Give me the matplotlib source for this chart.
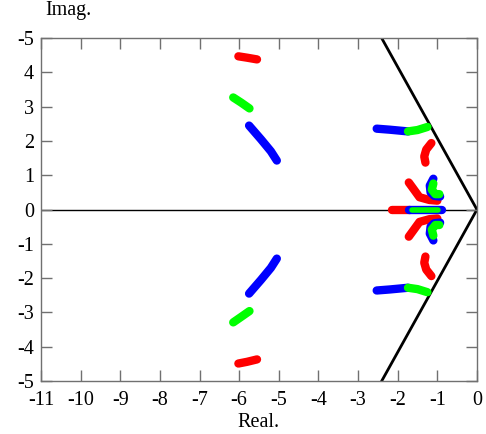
import matplotlib.pyplot as plt
import numpy as np

plt.rcParams['font.family'] = ['Liberation Serif', 'DejaVu Serif']
plt.rcParams['axes.unicode_minus'] = False

# root branches, (real, imag) pairs; upper and lower half-plane
red_far_up = [(-6.02, 4.47), (-5.8, 4.43), (-5.55, 4.38)]
red_far_dn = [(-6.02, -4.49), (-5.8, -4.44), (-5.55, -4.37)]
green_far_up = [(-6.15, 3.27), (-5.95, 3.12), (-5.74, 2.95)]
green_far_dn = [(-6.15, -3.29), (-5.95, -3.13), (-5.74, -2.96)]
blue_far_up = [(-5.75, 2.45), (-5.45, 2.05), (-5.2, 1.7), (-5.05, 1.43)]
blue_far_dn = [(-5.75, -2.45), (-5.45, -2.05), (-5.2, -1.7), (-5.05, -1.43)]

blue_arc_up = [(-2.53, 2.36), (-2.2, 2.33), (-1.74, 2.28)]
blue_arc_dn = [(-2.53, -2.36), (-2.2, -2.33), (-1.74, -2.28)]
green_arc_up = [(-1.74, 2.28), (-1.5, 2.32), (-1.25, 2.41)]
green_arc_dn = [(-1.74, -2.28), (-1.5, -2.32), (-1.25, -2.41)]
red_arc_up = [(-1.15, 1.94), (-1.28, 1.75), (-1.33, 1.55), (-1.3, 1.37)]
red_arc_dn = [(-1.15, -1.94), (-1.28, -1.75), (-1.33, -1.55), (-1.3, -1.37)]

blue_hook_up = [(-1.1, 0.9), (-1.19, 0.7), (-1.17, 0.5), (-1.08, 0.4), (-0.93, 0.38)]
blue_hook_dn = [(-1.1, -0.9), (-1.19, -0.7), (-1.17, -0.5), (-1.08, -0.4), (-0.93, -0.38)]
green_hook_up = [(-1.1, 0.76), (-1.14, 0.58), (-1.05, 0.45), (-0.95, 0.45)]
green_hook_dn = [(-1.1, -0.76), (-1.14, -0.58), (-1.05, -0.45), (-0.95, -0.45)]
red_hook_up = [(-1.72, 0.79), (-1.6, 0.6), (-1.45, 0.36), (-1.2, 0.28), (-1.0, 0.26)]
red_hook_dn = [(-1.72, -0.79), (-1.6, -0.6), (-1.45, -0.36), (-1.2, -0.28), (-1.0, -0.26)]

red_axis = [(-2.15, 0.0), (-1.69, 0.0)]
blue_axis = [(-1.72, 0.0), (-0.88, 0.0)]
green_axis = [(-1.64, 0.0), (-0.98, 0.0)]

# stability boundary (damping sector) and real axis
sector_re = [-2.5, 0.0, -2.5]
sector_im = [5.2, 0.0, -5.2]

xticks = list(range(-11, 1))
yticks = list(range(-5, 6))
ytick_labels = ['-5', '-4', '-3', '-2', '-1', '0', '1', '2', '3', '4', '-5']

fig = plt.figure(figsize=(4.86, 4.34), dpi=100)
ax = fig.add_axes([0.0844, 0.1221, 0.897, 0.790])

ax.plot([-11, 0], [0, 0], color='black', linewidth=1.0, zorder=1)
ax.plot(sector_re, sector_im, color='black', linewidth=2.0, zorder=1)

def branch(pts, color):
    pts = np.array(pts)
    ax.plot(pts[:, 0], pts[:, 1], color=color, linewidth=6.0,
            solid_capstyle='round', solid_joinstyle='round', zorder=2)

for pts in [red_far_up, red_far_dn, red_arc_up, red_arc_dn,
            red_hook_up, red_hook_dn, red_axis]:
    branch(pts, '#ff0000')
for pts in [blue_far_up, blue_far_dn, blue_arc_up, blue_arc_dn,
            blue_hook_up, blue_hook_dn, blue_axis]:
    branch(pts, '#0000ff')
for pts in [green_far_up, green_far_dn, green_arc_up, green_arc_dn,
            green_hook_up, green_hook_dn]:
    branch(pts, '#00ff00')
pts = np.array(green_axis)
ax.plot(pts[:, 0], pts[:, 1], color='#00ff00', linewidth=4.0,
        solid_capstyle='round', zorder=3)

ax.set_xlim(-11, 0)
ax.set_ylim(-5, 5)
ax.set_xticks(xticks)
ax.set_yticks(yticks)
ax.set_yticklabels(ytick_labels)
ax.tick_params(direction='in', length=8, width=1, color='#707070',
               top=True, right=True, labelsize=14.5)
ax.tick_params(axis='x', pad=7)
ax.tick_params(axis='y', pad=5)
for s in ax.spines.values():
    s.set_color('#707070')
    s.set_linewidth(1.0)

ax.set_xlabel('Real.', fontsize=14.5, labelpad=2)
fig.text(0.14, 0.975, 'Imag.', fontsize=14.5, ha='center', va='center')

fig.savefig('out.png', dpi=100)
